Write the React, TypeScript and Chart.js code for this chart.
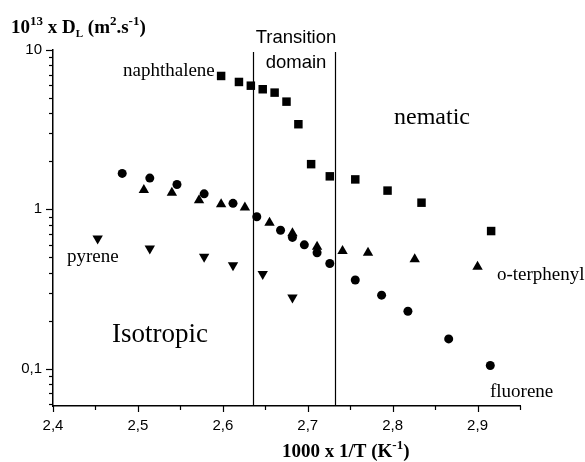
import React, { useEffect, useRef } from 'react';
import { Chart, registerables } from 'chart.js';

Chart.register(...registerables);

// ---- data ----
const naphthaleneX = [2.598, 2.619, 2.633, 2.647, 2.661, 2.675, 2.689, 2.704, 2.726, 2.756, 2.794, 2.834, 2.916];
const naphthaleneY = [6.87, 6.3, 5.97, 5.67, 5.4, 4.74, 3.42, 1.92, 1.61, 1.54, 1.31, 1.1, 0.73];

const fluoreneX = [2.4815, 2.514, 2.546, 2.578, 2.612, 2.64, 2.668, 2.682, 2.696, 2.711, 2.726, 2.756, 2.787, 2.818, 2.866, 2.915];
const fluoreneY = [1.68, 1.57, 1.43, 1.25, 1.09, 0.897, 0.738, 0.666, 0.598, 0.533, 0.457, 0.36, 0.289, 0.229, 0.1535, 0.1045];

const terphenylX = [2.507, 2.54, 2.572, 2.598, 2.626, 2.655, 2.682, 2.711, 2.741, 2.771, 2.826, 2.9];
const terphenylY = [1.32, 1.27, 1.14, 1.075, 1.025, 0.823, 0.706, 0.581, 0.548, 0.533, 0.485, 0.435];

const pyreneX = [2.4526, 2.514, 2.578, 2.612, 2.647, 2.682];
const pyreneY = [0.656, 0.568, 0.503, 0.446, 0.392, 0.279];

const transitionBounds = [2.635, 2.732];

const xMin = 2.4;
const xMax = 2.95;
const xTicks = [2.4, 2.45, 2.5, 2.55, 2.6, 2.65, 2.7, 2.75, 2.8, 2.85, 2.9, 2.95];
const xLabeled = [2.4, 2.5, 2.6, 2.7, 2.8, 2.9];

const yMin = 0.0582;
const yMax = 10;
const yTicks = [0.06, 0.07, 0.08, 0.09, 0.1, 0.2, 0.3, 0.4, 0.5, 0.6, 0.7, 0.8, 0.9, 1, 2, 3, 4, 5, 6, 7, 8, 9, 10];
const yLabeled = [0.1, 1, 10];

const toPts = (xs: number[], ys: number[]) => xs.map((x, i) => ({ x, y: ys[i] }));
const fmt = (v: number) => String(v).replace('.', ',');

type Seg = { t: string; s: number; dy?: number };

function drawRich(ctx: CanvasRenderingContext2D, x: number, y: number, segs: Seg[], family: string, bold: boolean) {
  let cx = x;
  ctx.textAlign = 'left';
  ctx.textBaseline = 'alphabetic';
  for (const seg of segs) {
    ctx.font = `${bold ? 'bold ' : ''}${seg.s}px ${family}`;
    ctx.fillText(seg.t, cx, y + (seg.dy || 0));
    cx += ctx.measureText(seg.t).width;
  }
}

const annotPlugin = {
  id: 'annot',
  beforeDatasetsDraw(chart: any) {
    const ctx = chart.ctx as CanvasRenderingContext2D;
    const xs = chart.scales.x;
    const ys = chart.scales.y;
    ctx.save();
    ctx.strokeStyle = '#000';
    ctx.lineWidth = 1.2;
    // vertical transition lines
    for (const b of transitionBounds) {
      const px = Math.round(xs.getPixelForValue(b)) + 0.5;
      ctx.beginPath();
      ctx.moveTo(px, ys.getPixelForValue(yMax) + 2);
      ctx.lineTo(px, ys.bottom);
      ctx.stroke();
    }
    // tick marks
    for (const t of xTicks) {
      const px = Math.round(xs.getPixelForValue(t)) + 0.5;
      const major = xLabeled.some((v) => Math.abs(v - t) < 1e-6);
      ctx.beginPath();
      ctx.moveTo(px, xs.top);
      ctx.lineTo(px, xs.top + (major ? 6 : 4));
      ctx.stroke();
    }
    for (const t of yTicks) {
      const py = Math.round(ys.getPixelForValue(t)) + 0.5;
      const major = yLabeled.some((v) => Math.abs(v - t) < 1e-9);
      ctx.beginPath();
      ctx.moveTo(ys.right, py);
      ctx.lineTo(ys.right - (major ? 7 : 4), py);
      ctx.stroke();
    }
    ctx.restore();
  },
  afterDraw(chart: any) {
    const ctx = chart.ctx as CanvasRenderingContext2D;
    ctx.save();
    ctx.fillStyle = '#000';
    const serif = '"Liberation Serif", "Times New Roman", serif';
    const sans = '"Liberation Sans", Arial, sans-serif';
    // axis titles
    drawRich(ctx, 11, 33, [
      { t: '10', s: 19 },
      { t: '13', s: 13, dy: -8 },
      { t: ' x D', s: 19 },
      { t: 'L', s: 11, dy: 4 },
      { t: ' (m', s: 19 },
      { t: '2', s: 13, dy: -8 },
      { t: '.s', s: 19 },
      { t: '-1', s: 13, dy: -8 },
      { t: ')', s: 19 },
    ], serif, true);
    drawRich(ctx, 282, 457, [
      { t: '1000 x 1/T (K', s: 19 },
      { t: '-1', s: 13, dy: -8 },
      { t: ')', s: 19 },
    ], serif, true);
    // labels
    ctx.textBaseline = 'alphabetic';
    ctx.textAlign = 'left';
    ctx.font = `19px ${serif}`;
    ctx.fillText('naphthalene', 123, 76);
    ctx.fillText('pyrene', 67, 262);
    ctx.fillText('o-terphenyl', 497, 280);
    ctx.fillText('fluorene', 490, 397);
    ctx.font = `24px ${serif}`;
    ctx.fillText('nematic', 394, 124);
    ctx.font = `27px ${serif}`;
    ctx.fillText('Isotropic', 112, 342);
    ctx.font = `18.5px ${sans}`;
    ctx.textAlign = 'center';
    ctx.fillText('Transition', 296, 43);
    ctx.fillText('domain', 296, 68);
    ctx.restore();
  },
};

export default function App() {
  const ref = useRef<HTMLCanvasElement | null>(null);
  useEffect(() => {
    if (!ref.current) return;
    const marker = { borderColor: '#000', backgroundColor: '#000', borderWidth: 0, showLine: false };
    const chart = new Chart(ref.current, {
      type: 'scatter',
      data: {
        datasets: [
          { label: 'naphthalene', data: toPts(naphthaleneX, naphthaleneY), pointStyle: 'rect', pointRadius: 6, ...marker },
          { label: 'fluorene', data: toPts(fluoreneX, fluoreneY), pointStyle: 'circle', pointRadius: 4.5, ...marker },
          { label: 'o-terphenyl', data: toPts(terphenylX, terphenylY), pointStyle: 'triangle', pointRadius: 6, ...marker },
          { label: 'pyrene', data: toPts(pyreneX, pyreneY), pointStyle: 'triangle', pointRotation: 180, pointRadius: 6, ...marker },
        ],
      },
      options: {
        responsive: false,
        animation: false,
        events: [],
        layout: { padding: { left: 0, right: 65, top: 50, bottom: 0 } },
        plugins: { legend: { display: false }, tooltip: { enabled: false }, title: { display: false } },
        scales: {
          x: {
            type: 'linear',
            min: xMin,
            max: xMax,
            afterBuildTicks: (axis: any) => { axis.ticks = xTicks.map((v) => ({ value: v })); },
            afterFit: (axis: any) => { axis.height = 56; },
            grid: { display: false, drawTicks: false },
            border: { display: true, color: '#000', width: 1.5 },
            ticks: {
              autoSkip: false,
              maxRotation: 0,
              padding: 11,
              color: '#000',
              font: { family: '"Liberation Sans", Arial, sans-serif', size: 15 },
              callback: (v: any) => (xLabeled.some((l) => Math.abs(l - v) < 1e-6) ? fmt(Math.round(v * 10) / 10) : ''),
            },
          },
          y: {
            type: 'logarithmic',
            min: yMin,
            max: yMax,
            afterBuildTicks: (axis: any) => { axis.ticks = yTicks.map((v) => ({ value: v })); },
            afterFit: (axis: any) => { axis.width = 53; },
            grid: { display: false, drawTicks: false },
            border: { display: true, color: '#000', width: 1.5 },
            ticks: {
              autoSkip: false,
              padding: 11,
              color: '#000',
              font: { family: '"Liberation Sans", Arial, sans-serif', size: 15 },
              callback: (v: any) => (yLabeled.some((l) => Math.abs(l - v) < 1e-9) ? fmt(v) : ''),
            },
          },
        },
      },
      plugins: [annotPlugin],
    });
    return () => chart.destroy();
  }, []);
  return (
    <div style={{ position: 'fixed', left: 0, top: 0, width: 585, height: 462, background: '#fff' }}>
      <canvas ref={ref} width={585} height={462} style={{ width: 585, height: 462 }} />
    </div>
  );
}
